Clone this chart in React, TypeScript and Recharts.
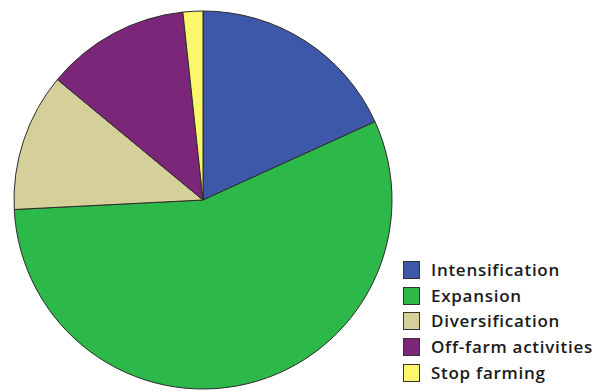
import { PieChart, Pie, Cell, Legend } from 'recharts'

const categories = ['Intensification', 'Expansion', 'Diversification', 'Off-farm activities', 'Stop farming']
const shares = [18.2, 56.0, 11.8, 12.3, 1.7]
const COLORS = ['#3D58A9', '#2DB84A', '#D5CF99', '#7C2679', '#FCF66B']

const data = categories.map((name, i) => ({ name, value: shares[i] }))

function LegendBox() {
  return (
    <div style={{ fontFamily: '"Open Sans", sans-serif', fontSize: 17, fontWeight: 600, color: '#1a1a1a' }}>
      {categories.map((name, i) => (
        <div key={name} style={{ display: 'flex', alignItems: 'center', height: 25.7 }}>
          <div
            style={{
              width: 17,
              height: 18,
              boxSizing: 'border-box',
              border: '1.5px solid #333',
              backgroundColor: COLORS[i],
              marginRight: 11,
            }}
          />
          <span style={{ letterSpacing: 0.72, lineHeight: '18px' }}>{name}</span>
        </div>
      ))}
    </div>
  )
}

export default function App() {
  return (
    <div style={{ position: 'fixed', left: 0, top: 0, width: 596, height: 392, background: '#fff' }}>
      <PieChart width={596} height={392} margin={{ top: 0, right: 0, bottom: 0, left: 0 }}>
        <Pie
          data={data}
          dataKey="value"
          nameKey="name"
          cx={203}
          cy={200}
          outerRadius={189}
          startAngle={90}
          endAngle={-270}
          stroke="#2b2b2b"
          strokeWidth={1}
          isAnimationActive={false}
        >
          {data.map((entry, index) => (
            <Cell key={`cell-${index}`} fill={COLORS[index]} />
          ))}
        </Pie>
        <Legend
          layout="vertical"
          content={() => <LegendBox />}
          wrapperStyle={{ left: 403, top: 257, width: 193 }}
        />
      </PieChart>
    </div>
  )
}
